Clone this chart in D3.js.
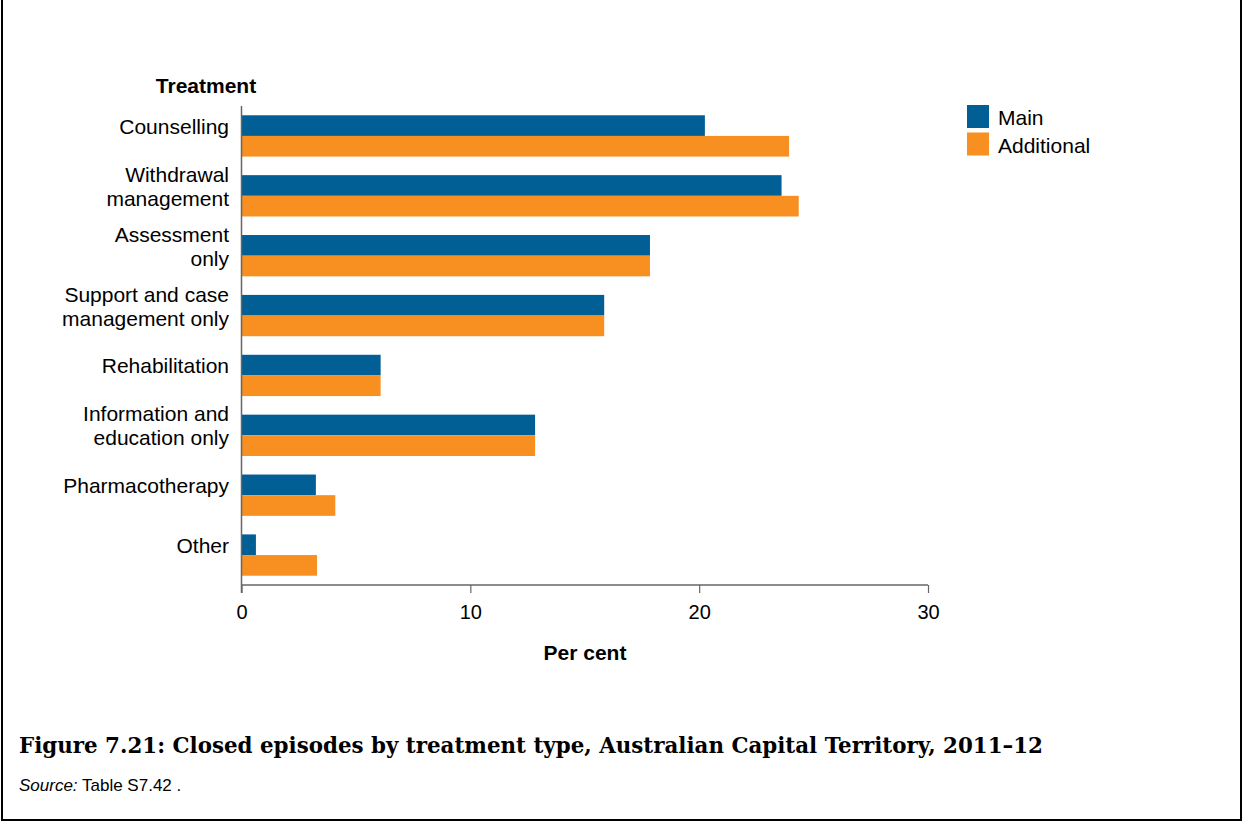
<!DOCTYPE html>
<html>
<head>
<meta charset="utf-8">
<script src="https://cdn.jsdelivr.net/npm/d3@7"></script>
<style>
  body { margin: 0; background: #fff; }
  svg { display: block; }
</style>
</head>
<body>
<svg id="chart" width="1244" height="823" font-family="Liberation Sans, Arial, sans-serif"></svg>
<script>
const categories = [
  ["Counselling"],
  ["Withdrawal", "management"],
  ["Assessment", "only"],
  ["Support and case", "management only"],
  ["Rehabilitation"],
  ["Information and", "education only"],
  ["Pharmacotherapy"],
  ["Other"]
];
const seriesNames = ["Main", "Additional"];
const mainValues = [20.25, 23.6, 17.85, 15.85, 6.08, 12.83, 3.25, 0.63];
const additionalValues = [23.93, 24.35, 17.85, 15.85, 6.08, 12.83, 4.1, 3.3];
const xTicks = [0, 10, 20, 30];
const colors = ["#015f95", "#f79020"];

const svg = d3.select("#chart");
const catKeys = categories.map(c => c.join(" "));
const values = [mainValues, additionalValues];

// outer frame
svg.append("rect").attr("x", 2).attr("y", -10).attr("width", 1239).attr("height", 830)
  .attr("fill", "none").attr("stroke", "#000").attr("stroke-width", 2);

const x = d3.scaleLinear().domain([0, 30]).range([241.5, 928]);
const y0 = d3.scaleBand().domain(catKeys).range([106, 585]).paddingInner(0.31).paddingOuter(0.155);
const y1 = d3.scaleBand().domain(seriesNames).range([0, y0.bandwidth()]);

// bars
const groups = svg.append("g").selectAll("g").data(catKeys).join("g")
  .attr("transform", d => `translate(0,${y0(d)})`);
groups.selectAll("rect")
  .data((d, i) => seriesNames.map((s, j) => ({ s, v: values[j][i], j })))
  .join("rect")
  .attr("x", x(0))
  .attr("y", d => y1(d.s))
  .attr("width", d => x(d.v) - x(0))
  .attr("height", y1.bandwidth())
  .attr("fill", d => colors[d.j]);

// x axis
const xAxis = svg.append("g").attr("transform", "translate(0,585)")
  .call(d3.axisBottom(x).tickValues(xTicks).tickSize(8).tickPadding(12).tickFormat(d3.format("d")));
xAxis.select(".domain").attr("stroke", "#666").attr("stroke-width", 1.5).attr("d", `M${x(0)},0H${x(30)}`);
xAxis.selectAll(".tick line").attr("stroke", "#666").attr("stroke-width", 1.2);
xAxis.selectAll(".tick text").style("font-size", "20px").style("font-family", "Liberation Sans, Arial, sans-serif").attr("fill", "#000");

// y axis line
svg.append("line").attr("x1", x(0)).attr("x2", x(0)).attr("y1", 106).attr("y2", 593)
  .attr("stroke", "#666").attr("stroke-width", 1.5);

// category labels
const lab = svg.append("g").selectAll("text").data(categories).join("text")
  .attr("text-anchor", "end")
  .style("font-size", "21px")
  .attr("x", 229)
  .attr("y", (d, i) => y0(catKeys[i]) + y0.bandwidth() / 2 - (d.length - 1) * 12 - 2);
lab.selectAll("tspan").data(d => d).join("tspan")
  .attr("x", 229)
  .attr("dy", (d, i) => i === 0 ? 0 : 24)
  .text(d => d);

// axis titles
svg.append("text").attr("x", 206).attr("y", 93).attr("text-anchor", "middle")
  .style("font-size", "21px").attr("font-weight", "bold").text("Treatment");
svg.append("text").attr("x", 585).attr("y", 660).attr("text-anchor", "middle")
  .style("font-size", "21px").attr("font-weight", "bold").text("Per cent");

// legend
const leg = svg.append("g").selectAll("g").data(seriesNames).join("g")
  .attr("transform", (d, i) => `translate(967,${105 + i * 27.5})`);
leg.append("rect").attr("width", 22).attr("height", 23).attr("fill", (d, i) => colors[i]);
leg.append("text").attr("x", 31).attr("y", 20).style("font-size", "21px").text(d => d);

// caption
svg.append("text").attr("x", 19).attr("y", 753)
  .style("font-family", "'DejaVu Serif', 'Liberation Serif', serif")
  .attr("font-weight", "bold").style("font-size", "22px")
  .attr("textLength", 1024).attr("lengthAdjust", "spacingAndGlyphs")
  .text("Figure 7.21: Closed episodes by treatment type, Australian Capital Territory, 2011\u201312");
const src = svg.append("text").attr("x", 19).attr("y", 791).style("font-size", "17px");
src.append("tspan").attr("font-style", "italic").text("Source:");
src.append("tspan").text(" Table S7.42 .");
</script>
</body>
</html>
